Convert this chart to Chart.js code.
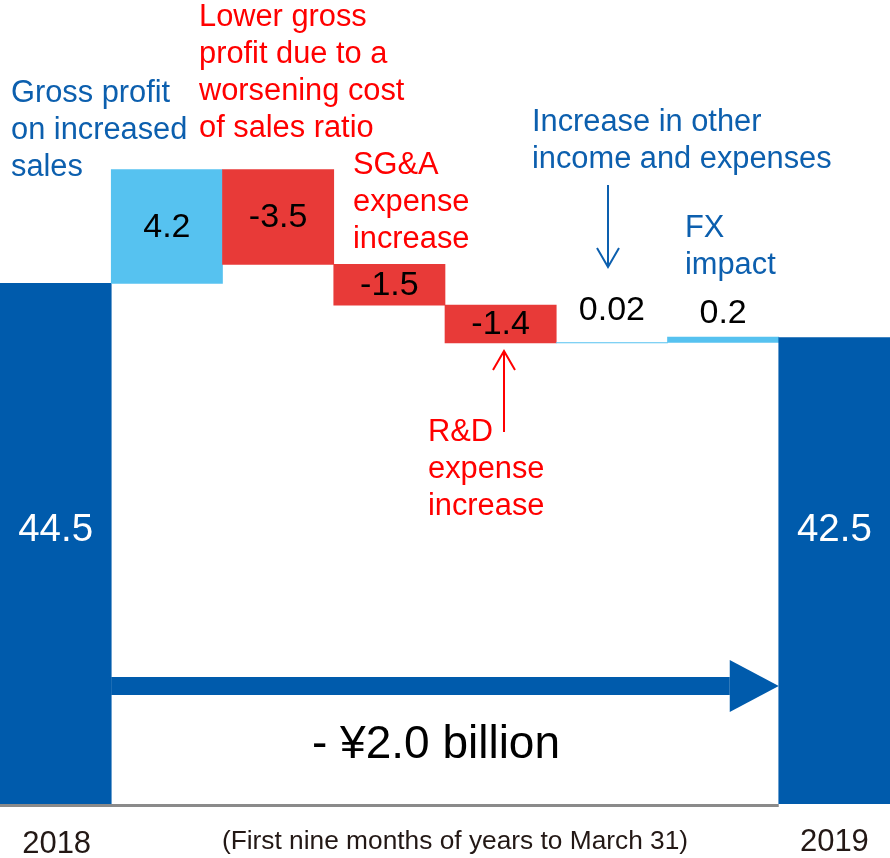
<!DOCTYPE html>
<html>
<head>
<meta charset="utf-8">
<script src="https://cdn.jsdelivr.net/npm/chart.js@4.4.1/dist/chart.umd.min.js"></script>
<style>
  html, body { margin: 0; padding: 0; background: #fff; }
  #wrap { width: 890px; height: 858px; position: relative; }
</style>
</head>
<body>
<div id="wrap"><canvas id="waterfall"></canvas></div>
<script>
// data (¥ billion)
const categories = ['2018', 'Gross profit', 'Cost ratio', 'SG&A', 'R&D', 'Other', 'FX', '2019'];
const startValue = 44.5;
const changes = [4.2, -3.5, -1.5, -1.4, 0.02, 0.2];
const endValue = 42.5;
const yearLabels = ['2018', '2019'];
const periodNote = '(First nine months of years to March 31)';
const totalChange = '- ¥2.0 billion';

const DARK_BLUE = '#005bac';
const LIGHT_BLUE = '#56c2f0';
const RED = '#e83a38';
const TEXT_BLUE = '#0c5fae';
const TEXT_RED = '#ff0000';
const FONT = '"Liberation Sans", Arial, sans-serif';

const Y_MIN = 25.3;
const Y_MAX = 54.95;

// build floating ranges for the waterfall
const ranges = [[Y_MIN, startValue]];
const colors = [DARK_BLUE];
const shown = [startValue];
let running = startValue;
changes.forEach(c => {
  const next = running + c;
  ranges.push([running, next]);
  colors.push(c >= 0 ? LIGHT_BLUE : RED);
  shown.push(c);
  running = next;
});
ranges.push([Y_MIN, endValue]);
colors.push(DARK_BLUE);
shown.push(endValue);

const notes = [
  { lines: ['Gross profit', 'on increased', 'sales'], x: 11, y: 102, color: TEXT_BLUE },
  { lines: ['Lower gross', 'profit due to a', 'worsening cost', 'of sales ratio'], x: 199, y: 26, color: TEXT_RED },
  { lines: ['SG&A', 'expense', 'increase'], x: 353, y: 174, color: TEXT_RED },
  { lines: ['Increase in other', 'income and expenses'], x: 532, y: 131, color: TEXT_BLUE },
  { lines: ['FX', 'impact'], x: 685, y: 237, color: TEXT_BLUE },
  { lines: ['R&D', 'expense', 'increase'], x: 428, y: 441, color: TEXT_RED }
];

function thinArrow(ctx, x, y1, y2, color) {
  const dir = y2 > y1 ? 1 : -1;
  ctx.save();
  ctx.strokeStyle = color;
  ctx.lineWidth = 2;
  ctx.beginPath();
  ctx.moveTo(x, y1);
  ctx.lineTo(x, y2);
  ctx.moveTo(x - 11, y2 - dir * 19);
  ctx.lineTo(x, y2);
  ctx.lineTo(x + 11, y2 - dir * 19);
  ctx.stroke();
  ctx.restore();
}

const decor = {
  id: 'decor',
  afterDatasetsDraw(chart) {
    const ctx = chart.ctx;
    const bars = chart.getDatasetMeta(0).data;
    const area = chart.chartArea;
    ctx.save();

    // baseline
    ctx.fillStyle = '#8a8a8a';
    ctx.fillRect(0, area.bottom, bars[7].x - bars[7].width / 2, 3);

    // value labels
    ctx.textAlign = 'center';
    ctx.textBaseline = 'middle';
    const lift = { 5: 32, 6: 23 };
    bars.forEach((bar, i) => {
      const top = Math.min(bar.y, bar.base);
      const bottom = Math.max(bar.y, bar.base);
      const text = String(shown[i]);
      if (i === 0 || i === bars.length - 1) {
        ctx.font = '38.5px ' + FONT;
        ctx.fillStyle = '#fff';
        ctx.fillText(text, bar.x, 530);
      } else if (bottom - top < 12) {
        ctx.font = '34px ' + FONT;
        ctx.fillStyle = '#000';
        ctx.fillText(text, bar.x, top - lift[i]);
      } else {
        ctx.font = '34px ' + FONT;
        ctx.fillStyle = '#000';
        ctx.fillText(text, bar.x, (top + bottom) / 2 + 1);
      }
    });

    // notes
    ctx.textAlign = 'left';
    ctx.textBaseline = 'alphabetic';
    ctx.font = '30.8px ' + FONT;
    notes.forEach(n => {
      ctx.fillStyle = n.color;
      n.lines.forEach((line, k) => ctx.fillText(line, n.x, n.y + k * 37));
    });

    thinArrow(ctx, 608, 185, 267, TEXT_BLUE);
    thinArrow(ctx, 504, 432, 351, TEXT_RED);

    // big change arrow between the two totals
    const x0 = bars[0].x + bars[0].width / 2;
    const x1 = bars[7].x - bars[7].width / 2;
    const ay = 686;
    ctx.fillStyle = DARK_BLUE;
    ctx.fillRect(x0, ay - 9, x1 - 49 - x0, 18);
    ctx.beginPath();
    ctx.moveTo(x1 - 49, ay - 26);
    ctx.lineTo(x1, ay);
    ctx.lineTo(x1 - 49, ay + 26);
    ctx.closePath();
    ctx.fill();

    ctx.textAlign = 'center';
    ctx.fillStyle = '#000';
    ctx.font = '46px ' + FONT;
    ctx.fillText(totalChange, 436, 758);

    // bottom labels
    ctx.fillStyle = '#231815';
    ctx.font = '31px ' + FONT;
    ctx.fillText(yearLabels[0], bars[0].x + 1, 853);
    ctx.fillText(yearLabels[1], bars[7].x, 851);
    ctx.font = '26.3px ' + FONT;
    ctx.fillText(periodNote, 455, 849);

    ctx.restore();
  }
};

new Chart(document.getElementById('waterfall'), {
  type: 'bar',
  data: {
    labels: categories,
    datasets: [{
      data: ranges,
      backgroundColor: colors,
      borderWidth: 0,
      barPercentage: 1,
      categoryPercentage: 1,
      borderSkipped: false
    }]
  },
  options: {
    responsive: true,
    maintainAspectRatio: false,
    animation: false,
    layout: { padding: { top: 0, left: 0, right: 0, bottom: 54 } },
    plugins: {
      legend: { display: false },
      tooltip: { enabled: false }
    },
    scales: {
      x: { display: false, offset: true, grid: { display: false } },
      y: { display: false, min: Y_MIN, max: Y_MAX, grid: { display: false } }
    }
  },
  plugins: [decor]
});
</script>
</body>
</html>
